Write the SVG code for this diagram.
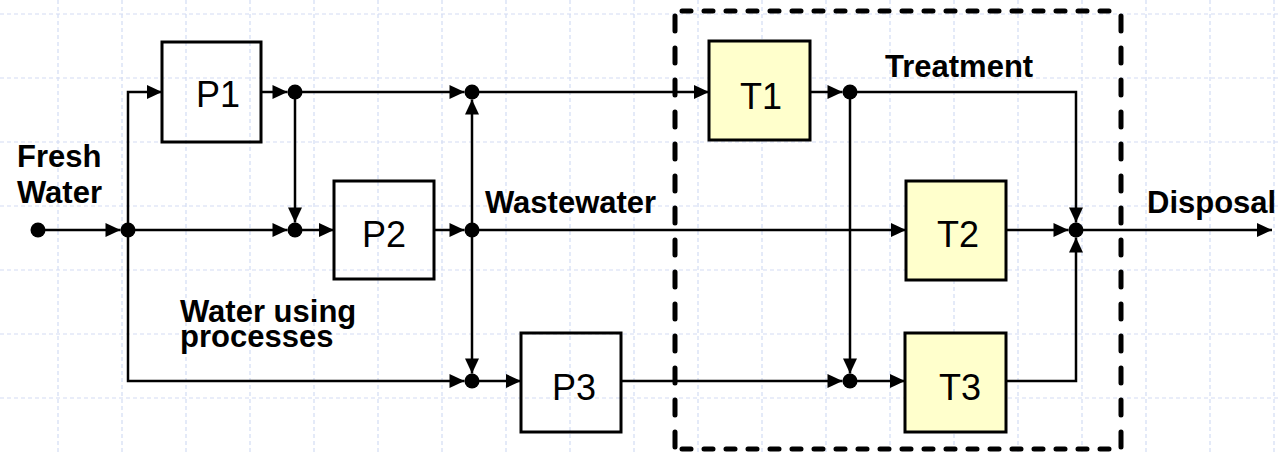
<svg xmlns="http://www.w3.org/2000/svg" width="1281" height="455" viewBox="0 0 1281 455">
<defs>
<marker id="ah" markerUnits="userSpaceOnUse" markerWidth="16" markerHeight="15" refX="15" refY="7" orient="auto" overflow="visible">
<path d="M0,0 L15,7 L0,14 z" fill="#000"/>
</marker>
<style>
.grid line{stroke:#d3dcf4;stroke-width:1.2;stroke-dasharray:4 3;}
.pbox{fill:none;stroke:#000;stroke-width:3;}
.tbox{fill:#ffffcc;stroke:#000;stroke-width:3;}
.c{fill:none;stroke:#000;stroke-width:2.5;marker-end:url(#ah);}
.dot{fill:#000;}
.lbl{font-family:"Liberation Sans",Arial,sans-serif;font-weight:bold;font-size:31px;fill:#000;}
.bl{font-family:"Liberation Sans",Arial,sans-serif;font-size:36px;fill:#000;text-anchor:middle;}
.dh{stroke:#000;stroke-width:5;stroke-linecap:round;stroke-dasharray:9 13;fill:none;}
.dv{stroke:#000;stroke-width:5;stroke-linecap:round;stroke-dasharray:15 17;fill:none;}
</style>
</defs>
<rect width="1281" height="455" fill="#fff"/>
<g class="grid">
<line x1="58" y1="0" x2="58" y2="455"/><line x1="122" y1="0" x2="122" y2="455"/><line x1="186" y1="0" x2="186" y2="455"/><line x1="250" y1="0" x2="250" y2="455"/><line x1="314" y1="0" x2="314" y2="455"/><line x1="378" y1="0" x2="378" y2="455"/><line x1="442" y1="0" x2="442" y2="455"/><line x1="506" y1="0" x2="506" y2="455"/><line x1="570" y1="0" x2="570" y2="455"/><line x1="634" y1="0" x2="634" y2="455"/><line x1="698" y1="0" x2="698" y2="455"/><line x1="762" y1="0" x2="762" y2="455"/><line x1="826" y1="0" x2="826" y2="455"/><line x1="890" y1="0" x2="890" y2="455"/><line x1="954" y1="0" x2="954" y2="455"/><line x1="1018" y1="0" x2="1018" y2="455"/><line x1="1082" y1="0" x2="1082" y2="455"/><line x1="1146" y1="0" x2="1146" y2="455"/><line x1="1210" y1="0" x2="1210" y2="455"/><line x1="1274" y1="0" x2="1274" y2="455"/>
<line x1="0" y1="14" x2="1281" y2="14"/><line x1="0" y1="78" x2="1281" y2="78"/><line x1="0" y1="142" x2="1281" y2="142"/><line x1="0" y1="206" x2="1281" y2="206"/><line x1="0" y1="270" x2="1281" y2="270"/><line x1="0" y1="334" x2="1281" y2="334"/><line x1="0" y1="398" x2="1281" y2="398"/>
</g>
<g id="treatment-boundary">
<line class="dh" x1="682" y1="11" x2="1121" y2="11"/>
<line class="dh" x1="682" y1="449" x2="1121" y2="449"/>
<line class="dv" x1="675" y1="16" x2="675" y2="449"/>
<line class="dv" x1="1121" y1="16" x2="1121" y2="449"/>
</g>
<g id="connectors">
<line class="c" x1="38" y1="230" x2="120.5" y2="230"/>
<path class="c" d="M128,230 V92 H162"/>
<path class="c" d="M128,230 V381 H464.5"/>
<line class="c" x1="128" y1="230" x2="287.5" y2="230"/>
<line class="c" x1="261" y1="92" x2="287.5" y2="92"/>
<line class="c" x1="295" y1="92" x2="295" y2="222.5"/>
<line class="c" x1="295" y1="92" x2="464.5" y2="92"/>
<line class="c" x1="295" y1="230" x2="334" y2="230"/>
<line class="c" x1="434" y1="230" x2="464.5" y2="230"/>
<line class="c" x1="472" y1="230" x2="472" y2="99.5"/>
<line class="c" x1="472" y1="230" x2="472" y2="373.5"/>
<line class="c" x1="472" y1="92" x2="709" y2="92"/>
<line class="c" x1="472" y1="381" x2="521" y2="381"/>
<line class="c" x1="810" y1="92" x2="842.5" y2="92"/>
<path class="c" d="M850,92 H1076 V222.5"/>
<line class="c" x1="850" y1="92" x2="850" y2="373.5"/>
<line class="c" x1="621" y1="381" x2="842.5" y2="381"/>
<line class="c" x1="850" y1="381" x2="905" y2="381"/>
<line class="c" x1="472" y1="230" x2="906" y2="230"/>
<line class="c" x1="1006" y1="230" x2="1068.5" y2="230"/>
<path class="c" d="M1006,381 H1076 V237.5"/>
<line class="c" x1="1076" y1="230" x2="1272" y2="230"/>
</g>
<g id="junctions">
<circle class="dot" cx="38" cy="230" r="7.5"/>
<circle class="dot" cx="128" cy="230" r="7.5"/>
<circle class="dot" cx="295" cy="92" r="7.5"/>
<circle class="dot" cx="295" cy="230" r="7.5"/>
<circle class="dot" cx="472" cy="92" r="7.5"/>
<circle class="dot" cx="472" cy="230" r="7.5"/>
<circle class="dot" cx="472" cy="381" r="7.5"/>
<circle class="dot" cx="850" cy="92" r="7.5"/>
<circle class="dot" cx="850" cy="381" r="7.5"/>
<circle class="dot" cx="1076" cy="230" r="7.5"/>
</g>
<g id="P1"><rect class="pbox" x="162" y="42" width="99" height="100"/><text class="bl" x="218" y="107">P1</text></g>
<g id="P2"><rect class="pbox" x="334" y="181" width="100" height="98"/><text class="bl" x="384" y="247">P2</text></g>
<g id="P3"><rect class="pbox" x="521" y="333" width="100" height="99"/><text class="bl" x="574" y="400">P3</text></g>
<g id="T1"><rect class="tbox" x="709" y="41" width="101" height="99"/><text class="bl" x="761" y="109">T1</text></g>
<g id="T2"><rect class="tbox" x="906" y="181" width="100" height="99"/><text class="bl" x="958" y="247">T2</text></g>
<g id="T3"><rect class="tbox" x="905" y="333" width="101" height="99"/><text class="bl" x="960" y="400">T3</text></g>
<g id="labels">
<text class="lbl" x="17" y="167">Fresh</text>
<text class="lbl" x="17" y="203">Water</text>
<text class="lbl" x="180" y="322">Water using</text>
<text class="lbl" x="180" y="347">processes</text>
<text class="lbl" x="485" y="213">Wastewater</text>
<text class="lbl" x="885" y="77">Treatment</text>
<text class="lbl" x="1147" y="213">Disposal</text>
</g>
</svg>
